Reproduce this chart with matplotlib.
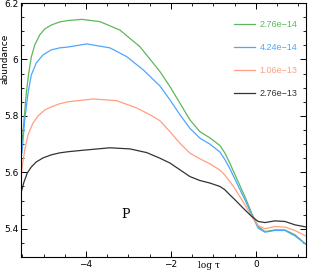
import numpy as np
import matplotlib.pyplot as plt
from matplotlib.ticker import MultipleLocator

# abundance vs log tau
x_green = [-5.506, -5.459, -5.405, -5.348, -5.287, -5.207, -5.089, -4.972, -4.816, -4.619,
           -4.424, -4.101, -3.671, -3.2, -2.729, -2.259, -2.024, -1.788, -1.553, -1.318,
           -1.082, -0.847, -0.729, -0.612, -0.494, -0.259, -0.101, 0.054, 0.212, 0.447,
           0.682, 0.918, 1.193]
y_green = [5.704, 5.786, 5.881, 5.952, 6.009, 6.051, 6.087, 6.108, 6.122, 6.133,
           6.138, 6.142, 6.134, 6.104, 6.045, 5.957, 5.904, 5.845, 5.786, 5.744,
           5.722, 5.695, 5.668, 5.632, 5.592, 5.514, 5.456, 5.408, 5.390, 5.396,
           5.396, 5.379, 5.343]

x_blue = [-5.506, -5.442, -5.365, -5.287, -5.169, -5.012, -4.816, -4.619, -4.424, -3.984,
          -3.435, -3.042, -2.652, -2.259, -2.024, -1.788, -1.553, -1.318, -1.082, -0.847,
          -0.729, -0.612, -0.494, -0.259, -0.101, 0.054, 0.212, 0.447, 0.682, 0.918, 1.193]
y_blue = [5.669, 5.786, 5.881, 5.945, 5.988, 6.016, 6.034, 6.041, 6.044, 6.055,
          6.041, 6.010, 5.963, 5.906, 5.857, 5.804, 5.756, 5.721, 5.700, 5.672,
          5.645, 5.613, 5.576, 5.503, 5.450, 5.402, 5.388, 5.394, 5.394, 5.375, 5.343]

x_salmon = [-5.522, -5.442, -5.365, -5.247, -5.129, -4.972, -4.816, -4.619, -4.424, -3.835,
            -3.278, -2.807, -2.494, -2.259, -2.024, -1.788, -1.553, -1.318, -1.082, -0.847,
            -0.729, -0.612, -0.494, -0.259, -0.101, 0.054, 0.212, 0.447, 0.682, 0.918, 1.193]
y_salmon = [5.598, 5.680, 5.733, 5.775, 5.800, 5.821, 5.832, 5.843, 5.850, 5.860,
            5.854, 5.828, 5.804, 5.783, 5.744, 5.703, 5.668, 5.648, 5.630, 5.608,
            5.590, 5.567, 5.542, 5.485, 5.444, 5.411, 5.400, 5.408, 5.406, 5.394, 5.373]

x_black = [-5.522, -5.459, -5.381, -5.287, -5.169, -5.012, -4.816, -4.619, -4.424, -4.09,
           -3.435, -2.965, -2.572, -2.259, -2.024, -1.788, -1.553, -1.318, -1.082, -0.847,
           -0.729, -0.612, -0.494, -0.259, -0.101, 0.054, 0.212, 0.447, 0.682, 0.918, 1.193]
y_black = [5.531, 5.566, 5.598, 5.619, 5.637, 5.651, 5.662, 5.669, 5.673, 5.678,
           5.687, 5.683, 5.670, 5.650, 5.633, 5.609, 5.585, 5.571, 5.562, 5.550,
           5.538, 5.520, 5.503, 5.467, 5.444, 5.426, 5.422, 5.428, 5.426, 5.414, 5.406]

labels = ['2.76e\u221214', '4.24e\u221214', '1.06e\u221213', '2.76e\u221213']
colors = ['#5cb85c', '#4da6ff', '#ff9f80', '#333333']

fig = plt.figure(figsize=(3.11, 2.73), dpi=100)
ax = fig.add_axes([0.0675, 0.0586, 0.9165, 0.9304])

series = [(x_green, y_green), (x_blue, y_blue), (x_salmon, y_salmon), (x_black, y_black)]
for (xs, ys), lab, c in zip(series, labels, colors):
    ax.plot(xs, ys, color=c, lw=0.9, label=lab, solid_joinstyle='round')

ax.set_xlim(-5.53, 1.18)
ax.set_ylim(5.3, 6.2)
ax.xaxis.set_major_locator(MultipleLocator(2))
ax.xaxis.set_minor_locator(MultipleLocator(0.5))
ax.yaxis.set_major_locator(MultipleLocator(0.2))
ax.yaxis.set_minor_locator(MultipleLocator(0.05))
ax.tick_params(which='both', direction='in', top=True, right=True, labelsize=6.5, pad=2)
ax.tick_params(which='major', length=4, width=0.7)
ax.tick_params(which='minor', length=2, width=0.6)
ax.yaxis.set_major_formatter(plt.FuncFormatter(lambda v, p: f'{v:g}'))
ax.xaxis.set_major_formatter(plt.FuncFormatter(lambda v, p: f'{v:g}'.replace('-', '\u2212')))
for s in ax.spines.values():
    s.set_linewidth(0.8)

ax.set_ylabel('abundance', fontsize=6.5)
ax.yaxis.set_label_coords(-0.04, 0.78)
ax.set_xlabel('log \u03c4', fontsize=6.5, family='DejaVu Serif')
ax.xaxis.set_label_coords(0.66, -0.015)

ax.text(-3.08, 5.45, 'P', fontsize=9, family='DejaVu Serif', ha='center', va='center')

leg = ax.legend(loc='upper right', bbox_to_anchor=(0.985, 0.95), frameon=False,
                fontsize=6.5, labelcolor='linecolor', handlelength=2.3,
                handletextpad=0.5, labelspacing=1.55, borderpad=0)
for t in leg.get_texts():
    t.set_family('Liberation Sans')

fig.savefig('out.png', dpi=100)
